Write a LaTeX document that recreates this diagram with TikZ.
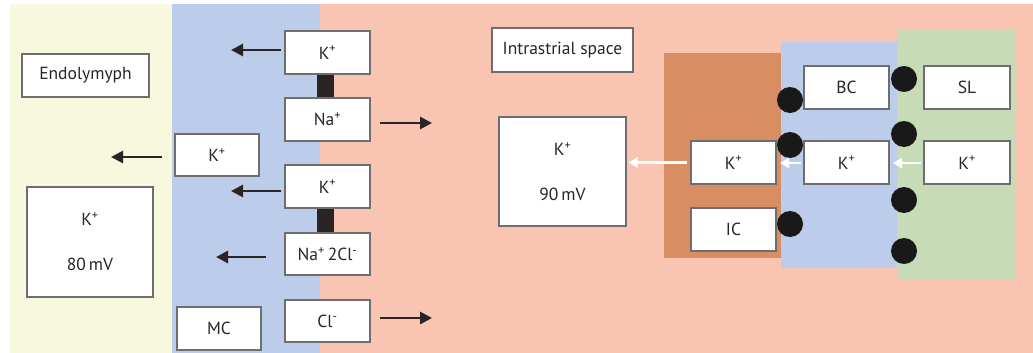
\documentclass[tikz,border=0pt]{standalone}
\usepackage{fontspec}
\setmainfont{PT Sans}
\usetikzlibrary{arrows.meta}
\definecolor{endo}{HTML}{F8F8DF}
\definecolor{mcblue}{HTML}{BBCDEA}
\definecolor{salmon}{HTML}{F9C4B1}
\definecolor{icbrown}{HTML}{D98D62}
\definecolor{slgreen}{HTML}{C7DCB6}
\definecolor{edge}{HTML}{6E6E6E}
\definecolor{ink}{HTML}{2B2424}
\tikzset{
  box/.style={draw=edge, fill=white, line width=1.1pt, inner sep=0pt,
    text=ink, font=\fontsize{17.5}{21}\selectfont, align=center,
    minimum width=85pt, minimum height=43pt},
  arr/.style={draw=ink, line width=2.8pt, -{Triangle[length=12pt,width=12pt]}},
  warr/.style={draw=white, line width=2.4pt, -{Triangle[length=9pt,width=10pt]}},
  bar/.style={draw=ink, line width=17pt},
  pore/.style={fill=black!90},
}
\begin{document}
\begin{tikzpicture}[x=1pt,y=-1pt]
  \useasboundingbox (0,0) rectangle (1033,353);
  \fill[white] (0,0) rectangle (1033,353);
  % compartments
  \fill[endo] (10,4) rectangle (172,353);
  \fill[mcblue] (172,4) rectangle (320,353);
  \fill[salmon] (320,4) rectangle (1033,353);
  % cell layers of the stria
  \fill[icbrown] (664,53) rectangle (781,258);
  \fill[mcblue] (781,42) rectangle (897,268);
  \fill[slgreen] (897,30) rectangle (1015,280);

  % left side
  \node[box, minimum width=127pt] (endo) at (85.5,75.5) {Endolymyph};
  \node[box, minimum width=126pt, minimum height=110pt] (k80) at (90,242)
    {K\textsuperscript{+}\\[24pt]80\,mV};
  \node[box, minimum width=84pt, minimum height=42pt] (kmid) at (217,155) {K\textsuperscript{+}};
  \node[box, minimum width=84pt] (mc) at (219,328.5) {MC};
  \node[box] (ktop) at (327.5,52.5) {K\textsuperscript{+}};
  \node[box] (na) at (327.5,119.5) {Na\textsuperscript{+}};
  \node[box] (k2) at (327.5,186.5) {K\textsuperscript{+}};
  \node[box, minimum height=42pt] (nacl) at (327.5,254) {Na\textsuperscript{+}\,2Cl\textsuperscript{-}};
  \node[box, minimum height=42pt] (cl) at (327.5,321) {Cl\textsuperscript{-}};

  % cotransporter links
  \draw[bar] ([xshift=-2pt]ktop.south) -- ([xshift=-2pt]na.north);
  \draw[bar] ([xshift=-2pt]k2.south) -- ([xshift=-2pt]nacl.north);

  % ion flows
  \coordinate (a1) at (231,50);
  \coordinate (a2) at (432,123);
  \coordinate (a3) at (111,157);
  \coordinate (a4) at (231,191);
  \coordinate (a5) at (216,257);
  \coordinate (a6) at (432,318);
  \draw[arr, shorten <=3pt] (ktop.west |- a1) -- (a1);
  \draw[arr, shorten <=9pt] (na.east |- a2) -- (a2);
  \draw[arr, shorten <=12pt] (kmid.west |- a3) -- (a3);
  \draw[arr, shorten <=3pt] (k2.west |- a4) -- (a4);
  \draw[arr, shorten <=18pt] (nacl.west |- a5) -- (a5);
  \draw[arr, shorten <=9pt] (cl.east |- a6) -- (a6);

  % right side
  \node[box, minimum width=141pt, minimum height=44pt] (intra) at (562.5,50) {Intrastrial space};
  \node[box, minimum width=127pt, minimum height=109pt] (k90) at (562.5,171.5)
    {K\textsuperscript{+}\\[24pt]90\,mV};
  \node[box] (bc) at (846.5,87.5) {BC};
  \node[box, minimum width=86pt] (sl) at (967,87.5) {SL};
  \node[box] (kic) at (733.5,162.5) {K\textsuperscript{+}};
  \node[box] (kbc) at (846.5,162.5) {K\textsuperscript{+}};
  \node[box, minimum width=86pt] (ksl) at (967,162.5) {K\textsuperscript{+}};
  \node[box] (ic) at (733.5,229.5) {IC};

  % channels and junctions
  \foreach \y in {100,145,224} \fill[pore] (790,\y) circle (13pt);
  \foreach \y in {79,134,200,251} \fill[pore] (904,\y) circle (13pt);

  % potassium recycling path
  \coordinate (w1) at (893,163);
  \coordinate (w2) at (780,163);
  \draw[warr, shorten <=2pt] (ksl.west |- w1) -- (w1);
  \draw[warr, shorten <=2pt] (kbc.west |- w2) -- (w2);
  \draw[warr, shorten <=3pt, shorten >=2pt] (kic.west) -- (k90.east |- kic.west);
\end{tikzpicture}
\end{document}
